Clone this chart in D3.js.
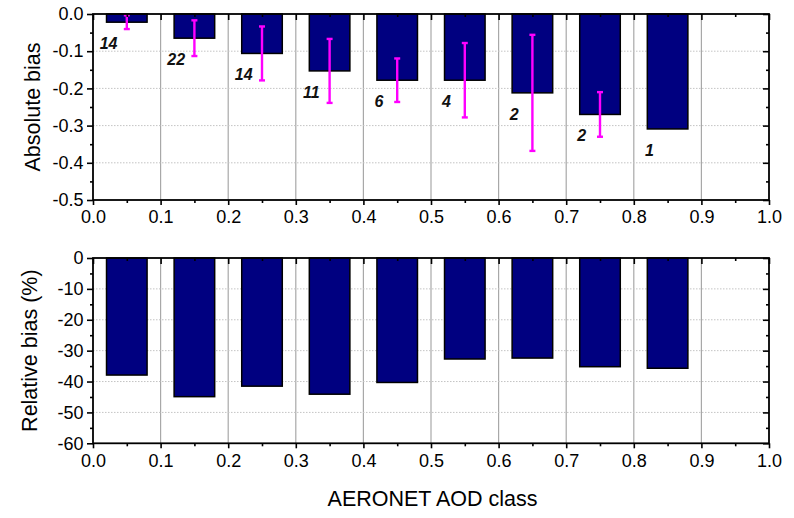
<!DOCTYPE html>
<html>
<head>
<meta charset="utf-8">
<script src="https://cdn.jsdelivr.net/npm/d3@7"></script>
<style>
  html, body { margin: 0; padding: 0; background: #fff; }
  svg { display: block; font-family: "Liberation Sans", Arial, sans-serif; }
</style>
</head>
<body>
<svg id="chart" width="794" height="518"></svg>
<script>
// AOD class centres (each 0.1-wide AERONET class)
const classCentres = [0.05, 0.15, 0.25, 0.35, 0.45, 0.55, 0.65, 0.75, 0.85];
// Mean absolute bias per class and its standard deviation (none for a single match-up)
const absoluteBias = [-0.022, -0.065, -0.106, -0.153, -0.178, -0.178, -0.212, -0.270, -0.309];
const absoluteSd   = [0.0185, 0.048, 0.0725, 0.086, 0.0585, 0.100, 0.156, 0.060, null];
// Number of collocations in each class
const sampleCounts = ["14", "22", "14", "11", "6", "4", "2", "2", "1"];
// Mean relative bias per class (%)
const relativeBias = [-37.9, -44.9, -41.5, -44.1, -40.3, -32.7, -32.4, -35.2, -35.7];

const xTicks = [0, 0.1, 0.2, 0.3, 0.4, 0.5, 0.6, 0.7, 0.8, 0.9, 1.0];
const xMinor = [0.05, 0.15, 0.25, 0.35, 0.45, 0.55, 0.65, 0.75, 0.85, 0.95];
const absTicks = [0, -0.1, -0.2, -0.3, -0.4, -0.5];
const absMinor = [-0.05, -0.15, -0.25, -0.35, -0.45];
const relTicks = [0, -10, -20, -30, -40, -50, -60];
const relMinor = [-5, -15, -25, -35, -45, -55];

const svg = d3.select("#chart");
const left = 93, right = 769;
const barHalf = 0.03;

const x = d3.scaleLinear().domain([0, 1]).range([left, right]);
const yAbs = d3.scaleLinear().domain([0, -0.5]).range([14, 200]);
const yRel = d3.scaleLinear().domain([0, -60]).range([258, 443.3]);

const FONT = 18;

function panel(y, majors) {
  const g = svg.append("g");
  const [y0, y1] = y.range();

  // vertical grid lines
  g.append("g").selectAll("line")
    .data(xTicks.filter(d => d > 0 && d < 1))
    .join("line")
    .attr("x1", d => x(d)).attr("x2", d => x(d))
    .attr("y1", y0).attr("y2", y1)
    .attr("stroke", "#a8a8a8").attr("stroke-width", 1.2);

  // horizontal dotted grid lines
  g.append("g").selectAll("line")
    .data(majors.filter(d => d !== y.domain()[0] && d !== y.domain()[1]))
    .join("line")
    .attr("x1", left).attr("x2", right)
    .attr("y1", d => y(d)).attr("y2", d => y(d))
    .attr("stroke", "#c4c4c4").attr("stroke-width", 1)
    .attr("stroke-dasharray", "1.5,1.5");

  return g;
}

function axes(g, y, majors, minors, fmt) {
  const [y0, y1] = y.range();
  const style = sel => {
    sel.select(".domain").remove();
    sel.selectAll(".tick line").attr("stroke", "#000").attr("stroke-width", 1.6);
    sel.selectAll("text").attr("font-size", FONT).attr("fill", "#000")
      .attr("font-family", "'Liberation Sans', Arial, sans-serif");
  };

  // bottom axis (outward ticks with labels)
  g.append("g").attr("transform", `translate(0,${y1})`)
    .call(d3.axisBottom(x).tickValues(xTicks).tickSize(5).tickPadding(5.5)
      .tickFormat(d => d.toFixed(1)))
    .call(style);
  g.append("g").attr("transform", `translate(0,${y1})`)
    .call(d3.axisBottom(x).tickValues(xMinor).tickSize(3).tickFormat(""))
    .call(style);

  // top axis (inward ticks)
  g.append("g").attr("transform", `translate(0,${y0})`)
    .call(d3.axisBottom(x).tickValues(xTicks).tickSize(6).tickFormat(""))
    .call(style);
  g.append("g").attr("transform", `translate(0,${y0})`)
    .call(d3.axisBottom(x).tickValues(xMinor).tickSize(3).tickFormat(""))
    .call(style);

  // left axis (outward ticks with labels)
  g.append("g").attr("transform", `translate(${left},0)`)
    .call(d3.axisLeft(y).tickValues(majors).tickSize(6).tickPadding(3.5).tickFormat(fmt))
    .call(style);
  g.append("g").attr("transform", `translate(${left},0)`)
    .call(d3.axisLeft(y).tickValues(minors).tickSize(3).tickFormat(""))
    .call(style);

  // right axis (inward ticks)
  g.append("g").attr("transform", `translate(${right},0)`)
    .call(d3.axisLeft(y).tickValues(majors).tickSize(6).tickFormat(""))
    .call(style);
  g.append("g").attr("transform", `translate(${right},0)`)
    .call(d3.axisLeft(y).tickValues(minors).tickSize(3).tickFormat(""))
    .call(style);

  // frame
  g.append("rect")
    .attr("x", left).attr("y", y0)
    .attr("width", right - left).attr("height", y1 - y0)
    .attr("fill", "none").attr("stroke", "#000").attr("stroke-width", 1.8);
}

function bars(g, y, values) {
  g.append("g").selectAll("rect")
    .data(values.map((v, i) => ({ c: classCentres[i], v })))
    .join("rect")
    .attr("x", d => x(d.c - barHalf))
    .attr("width", d => x(d.c + barHalf) - x(d.c - barHalf))
    .attr("y", y(0))
    .attr("height", d => y(d.v) - y(0))
    .attr("fill", "#000080")
    .attr("stroke", "#000").attr("stroke-width", 1.5);
}

// ---- Absolute bias panel ----
const gAbs = panel(yAbs, absTicks);
bars(gAbs, yAbs, absoluteBias);

const errData = absoluteBias.map((v, i) => ({ c: classCentres[i], v, sd: absoluteSd[i] }))
  .filter(d => d.sd != null);
const err = gAbs.append("g").attr("stroke", "#ff00ff").attr("stroke-width", 2.4);
err.selectAll("line.stem").data(errData).join("line").attr("class", "stem")
  .attr("x1", d => x(d.c)).attr("x2", d => x(d.c))
  .attr("y1", d => yAbs(d.v + d.sd)).attr("y2", d => yAbs(d.v - d.sd));
err.selectAll("line.capHi").data(errData).join("line").attr("class", "capHi")
  .attr("x1", d => x(d.c) - 3).attr("x2", d => x(d.c) + 3)
  .attr("y1", d => yAbs(d.v + d.sd)).attr("y2", d => yAbs(d.v + d.sd));
err.selectAll("line.capLo").data(errData).join("line").attr("class", "capLo")
  .attr("x1", d => x(d.c) - 3).attr("x2", d => x(d.c) + 3)
  .attr("y1", d => yAbs(d.v - d.sd)).attr("y2", d => yAbs(d.v - d.sd));

// sample counts under each bar
gAbs.append("g").selectAll("text")
  .data(sampleCounts.map((n, i) => ({ n, c: classCentres[i], v: absoluteBias[i] })))
  .join("text")
  .attr("x", d => x(d.c - 0.027))
  .attr("y", d => yAbs(d.v - 0.057))
  .attr("dy", "0.36em")
  .attr("text-anchor", "middle")
  .attr("font-size", 16).attr("font-weight", "bold").attr("font-style", "italic")
  .attr("fill", "#111")
  .text(d => d.n);

axes(gAbs, yAbs, absTicks, absMinor, d => d.toFixed(1));

// ---- Relative bias panel ----
const gRel = panel(yRel, relTicks);
bars(gRel, yRel, relativeBias);
axes(gRel, yRel, relTicks, relMinor, d => String(d));

// ---- titles ----
svg.append("text")
  .attr("transform", `translate(39.5,${(yAbs.range()[0] + yAbs.range()[1]) / 2}) rotate(-90)`)
  .attr("text-anchor", "middle").attr("font-size", 21.5).attr("fill", "#000")
  .text("Absolute bias");
svg.append("text")
  .attr("transform", `translate(36.5,${(yRel.range()[0] + yRel.range()[1]) / 2}) rotate(-90)`)
  .attr("text-anchor", "middle").attr("font-size", 21.5).attr("fill", "#000")
  .text("Relative bias (%)");
svg.append("text")
  .attr("x", 432.5).attr("y", 506)
  .attr("text-anchor", "middle").attr("font-size", 21.5).attr("fill", "#000")
  .text("AERONET AOD class");
</script>
</body>
</html>
